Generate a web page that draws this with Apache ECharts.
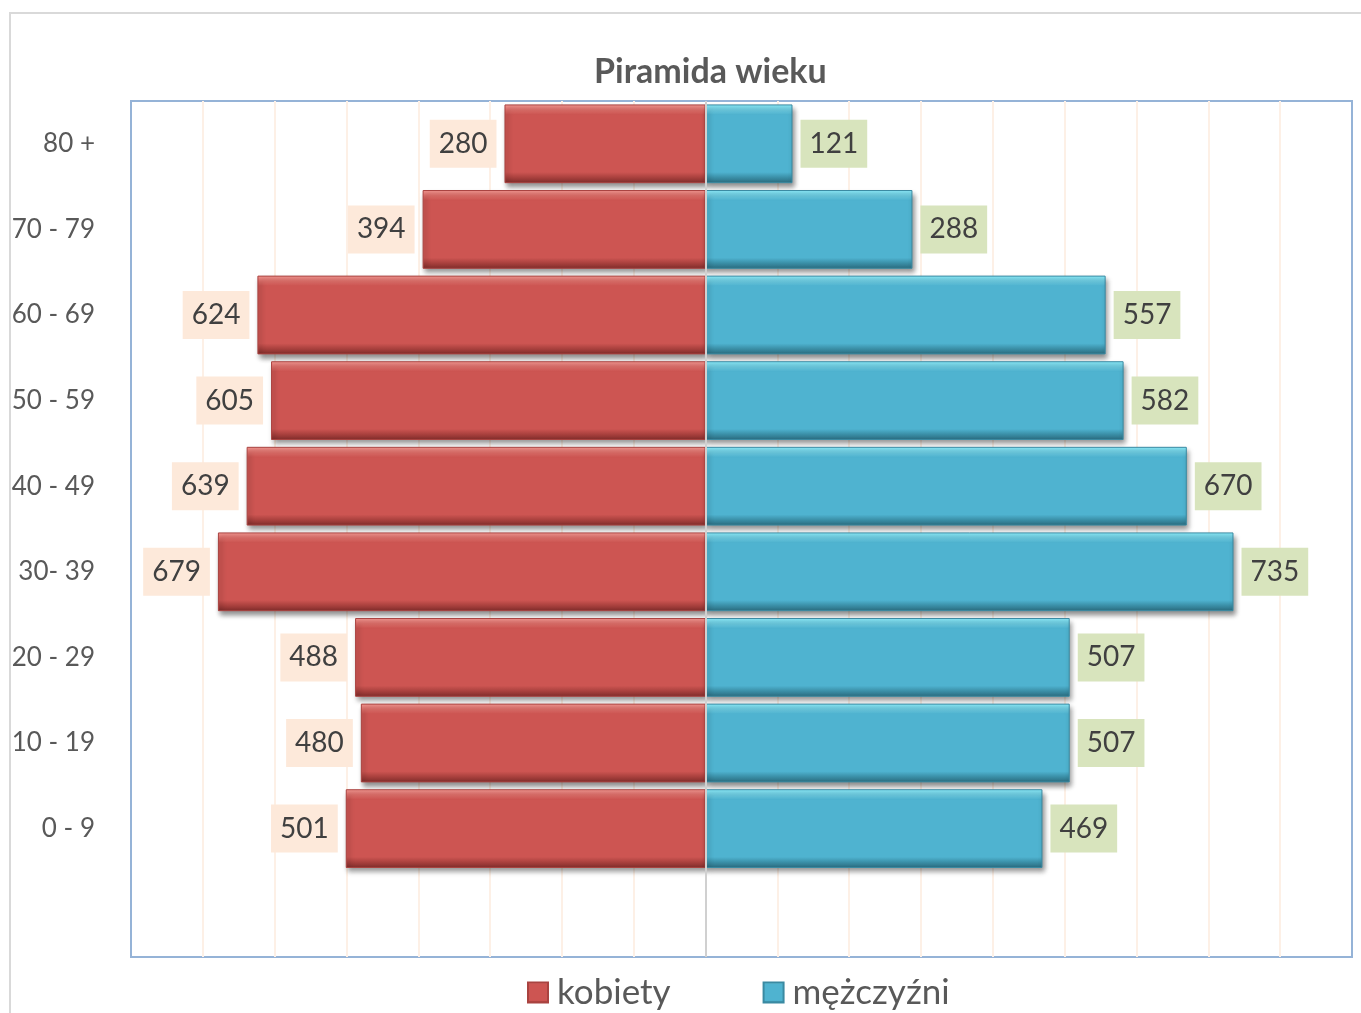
<!DOCTYPE html>
<html>
<head>
<meta charset="utf-8">
<script src="https://cdn.jsdelivr.net/npm/echarts@6/dist/echarts.min.js"></script>
<style>
  html, body { margin: 0; padding: 0; background: #fff; }
  #chart { width: 1361px; height: 1013px; }
  #frame { position: absolute; left: 9px; top: 12px; width: 1400px; height: 1100px;
           border: 2px solid #d9d9d9; pointer-events: none; }
</style>
</head>
<body>
<div id="chart"></div>
<div id="frame"></div>
<script>
// grupy wiekowe (pusta pozycja na dole jak w oryginale)
const categories = ['80 +', '70 - 79', '60 - 69', '50 - 59', '40 - 49', '30- 39', '20 - 29', '10 - 19', '0 - 9', '']
const kobiety = [280, 394, 624, 605, 639, 679, 488, 480, 501, null]
const mezczyzni = [121, 288, 557, 582, 670, 735, 507, 507, 469, null]

const FONT = 'Lato, "Open Sans", sans-serif'

// efekt wypukłości słupka
const bevel = (light, mid, main, dark, darker) => new echarts.graphic.LinearGradient(0, 0, 0, 1, [
  { offset: 0, color: light },
  { offset: 0.07, color: mid },
  { offset: 0.13, color: main },
  { offset: 0.86, color: main },
  { offset: 0.93, color: dark },
  { offset: 1, color: darker }
])

const chart = echarts.init(document.getElementById('chart'))

const option = {
  animation: false,
  title: {
    text: 'Piramida wieku',
    left: 589,
    top: 50,
    textStyle: { fontFamily: FONT, fontSize: 34, fontWeight: 'bold', color: '#595959' }
  },
  legend: {
    left: 522,
    top: 970,
    itemWidth: 20,
    itemHeight: 20,
    itemGap: 92,
    icon: 'rect',
    textStyle: { fontFamily: FONT, fontSize: 35, color: '#595959', padding: [0, 0, 0, 4] },
    data: ['kobiety', 'mężczyźni']
  },
  grid: {
    left: 131,
    right: 9,
    top: 101,
    bottom: 56,
    show: true,
    borderColor: '#95b3d7',
    borderWidth: 2
  },
  xAxis: {
    type: 'value',
    min: -800,
    max: 900,
    interval: 100,
    axisLabel: { show: false },
    axisLine: { show: false },
    axisTick: { show: false },
    splitLine: { showMinLine: false, showMaxLine: false, lineStyle: { color: '#fdf0e6', width: 2 } }
  },
  yAxis: {
    type: 'category',
    inverse: true,
    data: categories,
    axisLine: { show: false },
    axisTick: { show: false },
    axisLabel: { fontFamily: FONT, fontSize: 26, color: '#595959', margin: 36 }
  },
  series: [
    {
      name: 'kobiety',
      type: 'bar',
      barGap: '-100%',
      barCategoryGap: '8%',
      data: kobiety.map(v => v == null ? null : -v),
      itemStyle: {
        color: bevel('#f59a94', '#e3716c', '#cd5552', '#a8403d', '#7e2c2a'),
        borderColor: '#a94340',
        borderWidth: 1,
        shadowColor: 'rgba(0,0,0,0.45)',
        shadowBlur: 5,
        shadowOffsetX: 2,
        shadowOffsetY: 4
      },
      label: {
        show: true,
        position: 'left',
        distance: 8,
        formatter: p => Math.abs(p.value),
        fontFamily: FONT,
        fontSize: 28,
        lineHeight: 30,
        color: '#404040',
        backgroundColor: '#fde9da',
        padding: [9, 9]
      },
      markLine: {
        silent: true,
        symbol: 'none',
        label: { show: false },
        lineStyle: { color: '#d0d0d0', width: 2, type: 'solid' },
        data: [{ xAxis: 0 }]
      }
    },
    {
      name: 'mężczyźni',
      type: 'bar',
      barCategoryGap: '8%',
      data: mezczyzni,
      itemStyle: {
        color: bevel('#8eeefc', '#6fd0e6', '#4fb3d0', '#3a8ea6', '#2a6a7d'),
        borderColor: '#3a8aa2',
        borderWidth: 1,
        shadowColor: 'rgba(0,0,0,0.45)',
        shadowBlur: 5,
        shadowOffsetX: 2,
        shadowOffsetY: 4
      },
      label: {
        show: true,
        position: 'right',
        distance: 8,
        fontFamily: FONT,
        fontSize: 28,
        lineHeight: 30,
        color: '#404040',
        backgroundColor: '#d8e4bd',
        padding: [9, 9]
      }
    }
  ]
}

chart.setOption(option)
window.addEventListener('resize', () => chart.resize())
</script>
</body>
</html>
